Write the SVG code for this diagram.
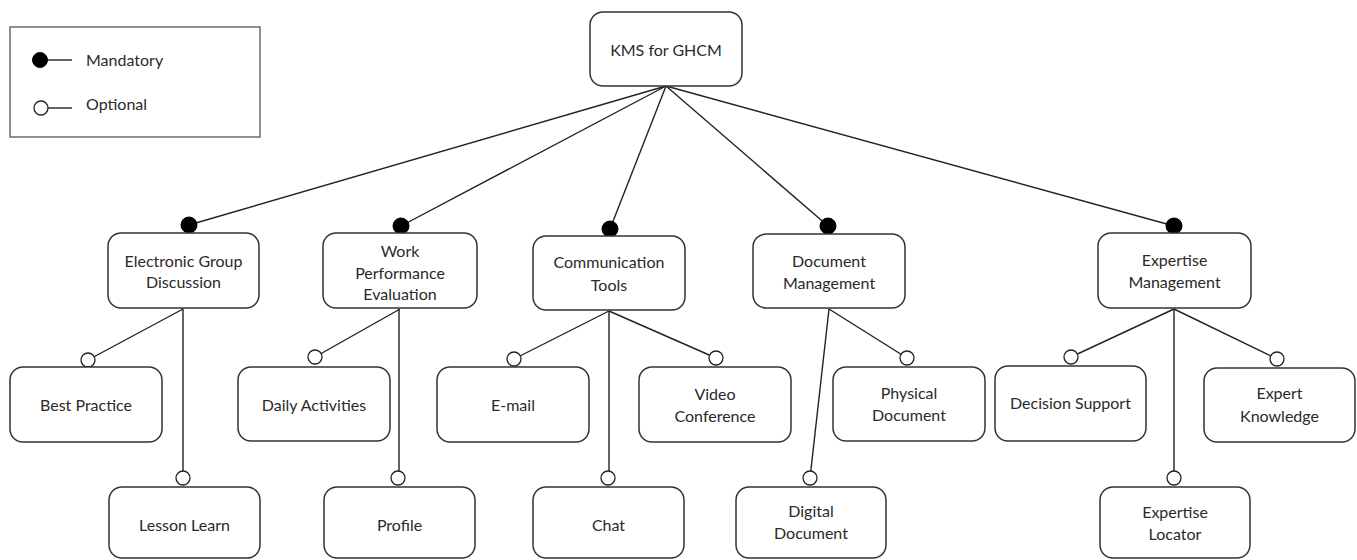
<svg xmlns="http://www.w3.org/2000/svg" width="1357" height="560" viewBox="0 0 1357 560">
<style>
.box{fill:#fff;stroke:#333;stroke-width:1.5}
.t{font-family:Lato,"Liberation Sans",sans-serif;font-size:16px;fill:#2a2a2a;text-anchor:middle}
.tl{font-family:Lato,"Liberation Sans",sans-serif;font-size:16px;fill:#2a2a2a}
.ln{stroke:#222;stroke-width:1.4;fill:none}
.m{fill:#000;stroke:#000;stroke-width:1}
.o{fill:#fff;stroke:#222;stroke-width:1.3}
</style>
<rect width="1357" height="560" fill="#fff"/>
<g id="legend">
<rect x="10" y="27" width="250" height="110" fill="#fff" stroke="#555" stroke-width="1.3"/>
<line class="ln" x1="44" y1="60" x2="72" y2="60"/>
<circle class="m" cx="40" cy="60" r="7.5"/>
<text class="tl" x="86" y="66">Mandatory</text>
<line class="ln" x1="44" y1="108" x2="72" y2="108"/>
<circle class="o" cx="41" cy="108" r="7"/>
<text class="tl" x="86" y="110">Optional</text>
</g>
<g id="connectors">
<line class="ln" x1="666" y1="86" x2="189" y2="225"/>
<line class="ln" x1="666" y1="86" x2="401" y2="226"/>
<line class="ln" x1="666" y1="86" x2="610" y2="229"/>
<line class="ln" x1="666" y1="86" x2="828" y2="226"/>
<line class="ln" x1="666" y1="86" x2="1174" y2="226"/>
<line class="ln" x1="183" y1="309" x2="88" y2="360"/>
<line class="ln" x1="183" y1="309" x2="183" y2="478"/>
<line class="ln" x1="400" y1="309" x2="315" y2="357"/>
<line class="ln" x1="399" y1="309" x2="399" y2="478"/>
<line class="ln" x1="609" y1="311" x2="514" y2="359"/>
<line class="ln" x1="609" y1="311" x2="609" y2="478"/>
<line class="ln" x1="609" y1="311" x2="716" y2="358"/>
<line class="ln" x1="829" y1="309" x2="810" y2="478"/>
<line class="ln" x1="829" y1="309" x2="907" y2="358"/>
<line class="ln" x1="1174" y1="309" x2="1071" y2="357"/>
<line class="ln" x1="1174" y1="309" x2="1174" y2="478"/>
<line class="ln" x1="1174" y1="309" x2="1277" y2="359"/>
<circle class="m" cx="189" cy="225" r="8"/>
<circle class="m" cx="401" cy="226" r="8"/>
<circle class="m" cx="610" cy="229" r="8"/>
<circle class="m" cx="828" cy="226" r="8"/>
<circle class="m" cx="1174" cy="226" r="8"/>
<circle class="o" cx="88" cy="360" r="7"/>
<circle class="o" cx="183" cy="478" r="7"/>
<circle class="o" cx="315" cy="357" r="7"/>
<circle class="o" cx="398" cy="478" r="7"/>
<circle class="o" cx="514" cy="359" r="7"/>
<circle class="o" cx="608" cy="478" r="7"/>
<circle class="o" cx="716" cy="358" r="7"/>
<circle class="o" cx="810" cy="478" r="7"/>
<circle class="o" cx="907" cy="358" r="7"/>
<circle class="o" cx="1071" cy="357" r="7"/>
<circle class="o" cx="1174" cy="478" r="7"/>
<circle class="o" cx="1277" cy="359" r="7"/>
</g>
<g id="root"><rect class="box" x="590" y="12" width="152" height="74" rx="13"/><text class="t" x="666" y="56">KMS for GHCM</text></g>
<g id="egd"><rect class="box" x="108" y="233" width="151" height="75" rx="13"/><text class="t" x="183.5" y="267">Electronic Group</text><text class="t" x="183.5" y="288">Discussion</text></g>
<g id="wpe"><rect class="box" x="323" y="233" width="154" height="75" rx="13"/><text class="t" x="400" y="257">Work</text><text class="t" x="400" y="279">Performance</text><text class="t" x="400" y="300">Evaluation</text></g>
<g id="ct"><rect class="box" x="533" y="236" width="152" height="74" rx="13"/><text class="t" x="609" y="268">Communication</text><text class="t" x="609" y="291">Tools</text></g>
<g id="dm"><rect class="box" x="753" y="234" width="152" height="74" rx="13"/><text class="t" x="829" y="267">Document</text><text class="t" x="829" y="289">Management</text></g>
<g id="em"><rect class="box" x="1098" y="233" width="153" height="75" rx="13"/><text class="t" x="1174.5" y="266">Expertise</text><text class="t" x="1174.5" y="288">Management</text></g>
<g id="bp"><rect class="box" x="10" y="367" width="152" height="75" rx="13"/><text class="t" x="86" y="411">Best Practice</text></g>
<g id="ll"><rect class="box" x="109" y="487" width="151" height="71" rx="13"/><text class="t" x="184.5" y="531">Lesson Learn</text></g>
<g id="da"><rect class="box" x="238" y="367" width="152" height="74" rx="13"/><text class="t" x="314" y="411">Daily Activities</text></g>
<g id="pr"><rect class="box" x="324" y="487" width="151" height="71" rx="13"/><text class="t" x="399.5" y="531">Profile</text></g>
<g id="em2"><rect class="box" x="437" y="367" width="152" height="75" rx="13"/><text class="t" x="513" y="411">E-mail</text></g>
<g id="ch"><rect class="box" x="533" y="487" width="151" height="71" rx="13"/><text class="t" x="608.5" y="531">Chat</text></g>
<g id="vc"><rect class="box" x="639" y="367" width="152" height="75" rx="13"/><text class="t" x="715" y="400">Video</text><text class="t" x="715" y="422">Conference</text></g>
<g id="dd"><rect class="box" x="736" y="487" width="150" height="71" rx="13"/><text class="t" x="811" y="517">Digital</text><text class="t" x="811" y="539">Document</text></g>
<g id="pd"><rect class="box" x="833" y="367" width="152" height="74" rx="13"/><text class="t" x="909" y="399">Physical</text><text class="t" x="909" y="421">Document</text></g>
<g id="ds"><rect class="box" x="995" y="366" width="151" height="75" rx="13"/><text class="t" x="1070.5" y="409">Decision Support</text></g>
<g id="ek"><rect class="box" x="1204" y="368" width="151" height="74" rx="13"/><text class="t" x="1279.5" y="399">Expert</text><text class="t" x="1279.5" y="422">Knowledge</text></g>
<g id="el"><rect class="box" x="1100" y="487" width="150" height="71" rx="13"/><text class="t" x="1175" y="518">Expertise</text><text class="t" x="1175" y="540">Locator</text></g>
</svg>
